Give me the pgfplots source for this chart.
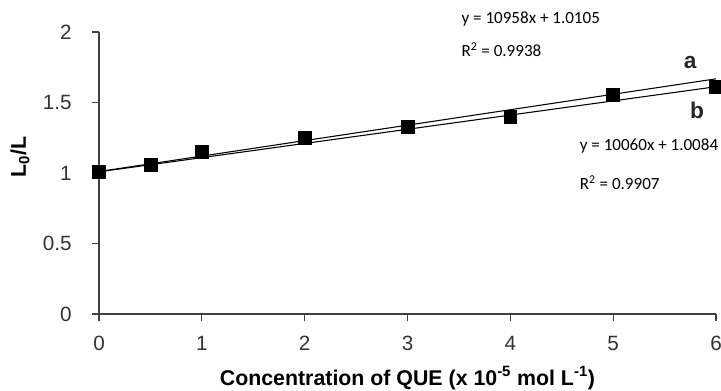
\documentclass[border=0pt]{standalone}
\usepackage{pgfplots}
\pgfplotsset{compat=1.18}
\usepackage{fontspec}
\setmainfont{Liberation Sans}
\newfontfamily\calib{Carlito}
\definecolor{axgray}{HTML}{404040}
\begin{document}
\begin{tikzpicture}
\path[use as bounding box] (-74.25pt,-57pt) rectangle (466.5pt,235.5pt);
\begin{axis}[
  at={(0pt,0pt)}, anchor=south west,
  name=ax,
  scale only axis,
  width=462.75pt, height=211.5pt,
  xmin=0, xmax=6, ymin=0, ymax=2,
  axis lines*=left,
  axis line style={axgray, line width=0.9pt},
  xtick={0,1,2,3,4,5,6},
  ytick={0,0.5,1,1.5,2},
  tick align=outside,
  major tick length=5pt,
  tick style={axgray, line width=0.9pt},
  /pgf/number format/assume math mode=true,
  yticklabel style={font=\fontsize{15.5}{17}\selectfont, text=black!80, anchor=east, xshift=-12pt},
  xticklabel style={font=\fontsize{15.5}{17}\selectfont, text=black!80, anchor=north, yshift=-8pt},
  clip=false,
  xlabel={\textbf{Concentration of QUE (x 10\textsuperscript{-5} mol L\textsuperscript{-1})}},
  ylabel={\textbf{L\textsubscript{0}/L}},
  label style={font=\fontsize{16}{18}\selectfont},
  xlabel style={at={(axis description cs:0.5,0)}, anchor=center, yshift=-48pt},
  ylabel style={at={(axis description cs:-0.128,0.557)}, anchor=center},
]
\addplot[black, line width=0.8pt] coordinates {(0,1.0105) (6,1.6680)};
\addplot[black, line width=0.8pt] coordinates {(0,1.0084) (6,1.6120)};
\addplot[only marks, mark=square*, mark size=4.8pt, black] coordinates {
(0,1.007) (0.5,1.057) (1,1.149) (2,1.248) (3,1.326) (4,1.397) (5,1.553) (6,1.612)};
\node[anchor=west, font=\calib\fontsize{12.8}{14}\selectfont] at (axis cs:3.48,2.09) {y = 10958x + 1.0105};
\node[anchor=west, font=\calib\fontsize{12.8}{14}\selectfont] at (axis cs:3.48,1.872) {R\textsuperscript{2} = 0.9938};
\node[font=\bfseries\fontsize{17}{19}\selectfont, text=black!85] at (axis cs:5.75,1.787) {a};
\node[font=\bfseries\fontsize{17}{19}\selectfont, text=black!85] at (axis cs:5.815,1.447) {b};
\node[anchor=west, font=\calib\fontsize{12.8}{14}\selectfont] at (axis cs:4.63,1.191) {y = 10060x + 1.0084};
\node[anchor=west, font=\calib\fontsize{12.8}{14}\selectfont] at (axis cs:4.63,0.929) {R\textsuperscript{2} = 0.9907};
\end{axis}
\end{tikzpicture}
\end{document}
